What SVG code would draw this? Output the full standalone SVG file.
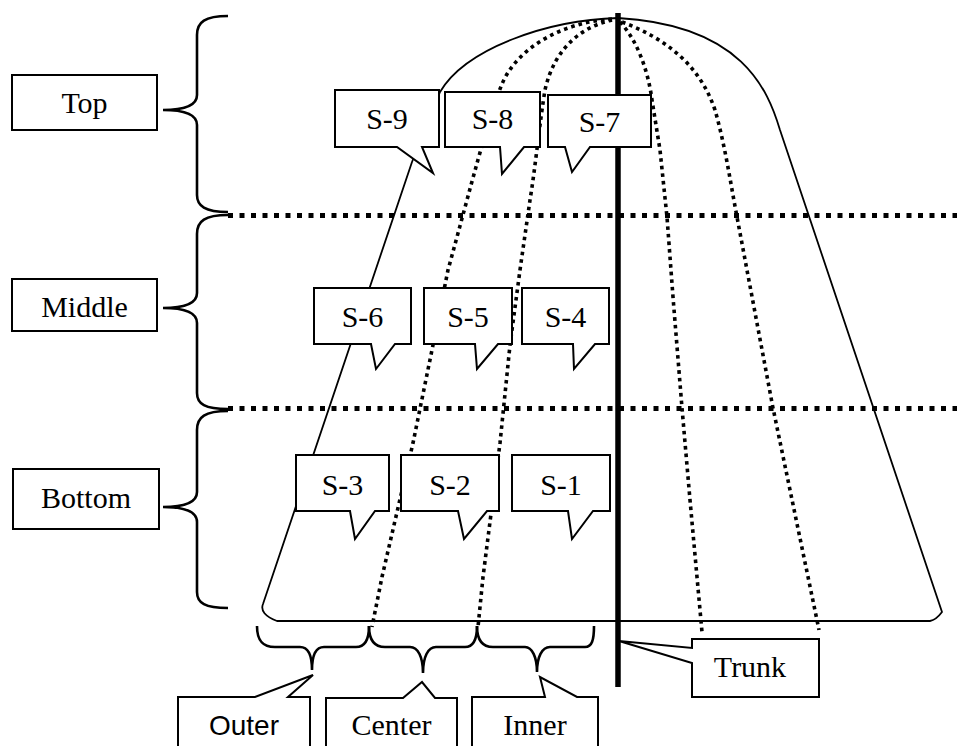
<svg xmlns="http://www.w3.org/2000/svg" width="957" height="746" viewBox="0 0 957 746">
<style>
.bg{fill:#fff}
.box{fill:#fff;stroke:#000;stroke-width:2}
.t{font-family:"Liberation Serif","Times New Roman",serif;font-size:30px;fill:#000;text-anchor:middle}
.ts{font-family:"Liberation Sans",Arial,sans-serif;font-size:28px;fill:#000;text-anchor:middle}
.outline{fill:none;stroke:#000;stroke-width:1.8;stroke-linejoin:round}
.mer{fill:none;stroke:#000;stroke-width:3.6;stroke-dasharray:3.6 4}
.hdot{fill:none;stroke:#000;stroke-width:5;stroke-dasharray:5 6.5}
.brace{fill:none;stroke:#000;stroke-width:2.6}
.trunk{stroke:#000;stroke-width:5.5}
</style>
<rect class="bg" x="0" y="0" width="957" height="746"/>

<g id="tree">
<path class="outline" d="M618,18 C548,20 466,48 440,92 L412,162 L263,604 Q259,614 277,621 L930,621 Q936,620 942,612 L780,130 C768,90 742,25 618,18 Z"/>
<path class="mer" d="M612,19 C565,22 518,46 502,84 C488,118 470,190 448,270 L433,345 L413,443 L382,577 L372,627"/>
<path class="mer" d="M612,20 C585,26 555,45 545,90 C540,120 535,170 530,200 L520,270 L510,345 L500,443 L483,577 L478,627"/>
<path class="mer" d="M620,22 C637,40 648,70 652,100 L660,150 L667,217 L673,297 L682,408 L690,500 L702,632"/>
<path class="mer" d="M622,22 C665,38 700,65 715,110 C725,145 730,180 737,217 L773,408 L818,625 L819,630"/>
<path class="hdot" d="M228,215.5 H957"/>
<path class="hdot" d="M228,408.5 H957"/>
<line class="trunk" x1="618" y1="13" x2="618" y2="687"/>
</g>

<g id="connectors">
<path class="brace" d="M228,16 C205,16 197,22 197,35 L197,95 C197,105 185,110 163,110 C185,110 197,115 197,125 L197,195 C197,206 205,212 228,212"/>
<path class="brace" d="M228,215 C205,215 197,221 197,234 L197,293 C197,303 185,308 163,308 C185,308 197,313 197,323 L197,393 C197,404 205,409 228,409"/>
<path class="brace" d="M228,411 C205,411 197,417 197,430 L197,492 C197,502 185,507 163,507 C185,507 197,512 197,522 L197,592 C197,603 205,608 228,608"/>
<path class="brace" d="M257,626 C257,640 262,647 275,647 L300,647 C308,647 312,655 312,670 C312,655 316,647 324,647 L356,647 C365,647 369,640 369,626"/>
<path class="brace" d="M369,626 C369,640 374,647 385,647 L410,647 C418,647 423,657 423,673 C423,657 428,647 436,647 L465,647 C473,647 477,640 477,626"/>
<path class="brace" d="M477,626 C477,640 482,647 493,647 L525,647 C532,647 537,657 537,672 C537,657 542,647 550,647 L585,647 C592,647 594,640 594,626"/>
</g>

<g id="label-top"><rect class="box" x="12" y="75" width="145" height="55"/><text class="t" x="84.5" y="113">Top</text></g>
<g id="label-middle"><rect class="box" x="12" y="279" width="145" height="52"/><text class="t" x="84.5" y="317">Middle</text></g>
<g id="label-bottom"><rect class="box" x="13" y="469" width="146" height="60"/><text class="t" x="86" y="508">Bottom</text></g>

<g id="s9"><path class="box" d="M335,90 H439 V147 H422 L433,173 L397,147 H335 Z"/><text class="t" x="387" y="129">S-9</text></g>
<g id="s8"><path class="box" d="M445,92 H540 V147 H524 L502,174 L500,147 H445 Z"/><text class="t" x="492.5" y="129">S-8</text></g>
<g id="s7"><path class="box" d="M548,95 H651 V147 H590 L572,172 L565,147 H548 Z"/><text class="t" x="599.5" y="132">S-7</text></g>

<g id="s6"><path class="box" d="M314,288 H411 V344 H395 L376,369 L371,344 H314 Z"/><text class="t" x="362.5" y="327">S-6</text></g>
<g id="s5"><path class="box" d="M424,288 H512 V344 H498 L477,369 L475,344 H424 Z"/><text class="t" x="468" y="327">S-5</text></g>
<g id="s4"><path class="box" d="M522,288 H609 V344 H595 L574,369 L573,344 H522 Z"/><text class="t" x="565.5" y="327">S-4</text></g>

<g id="s3"><path class="box" d="M296,455 H389 V511 H375 L355,539 L350,511 H296 Z"/><text class="t" x="342.5" y="495">S-3</text></g>
<g id="s2"><path class="box" d="M401,455 H499 V511 H487 L464,539 L458,511 H401 Z"/><text class="t" x="450" y="495">S-2</text></g>
<g id="s1"><path class="box" d="M512,455 H610 V511 H593 L572,539 L568,511 H512 Z"/><text class="t" x="561" y="495">S-1</text></g>

<g id="label-outer"><path class="box" d="M178,760 V697 H255 L313,675 L288,697 H310 V760"/><text class="ts" x="244" y="735">Outer</text></g>
<g id="label-center"><path class="box" d="M326,760 V698 H403 L422,682 L435,698 H457 V760"/><text class="t" x="391.5" y="735">Center</text></g>
<g id="label-inner"><path class="box" d="M472,760 V697 H545 L540,677 L577,697 H598 V760"/><text class="t" x="535" y="735">Inner</text></g>
<g id="label-trunk"><path class="box" d="M692,639 H819 V697 H692 V663 L619,641 L692,648 Z"/><text class="t" x="750" y="677">Trunk</text></g>
</svg>
